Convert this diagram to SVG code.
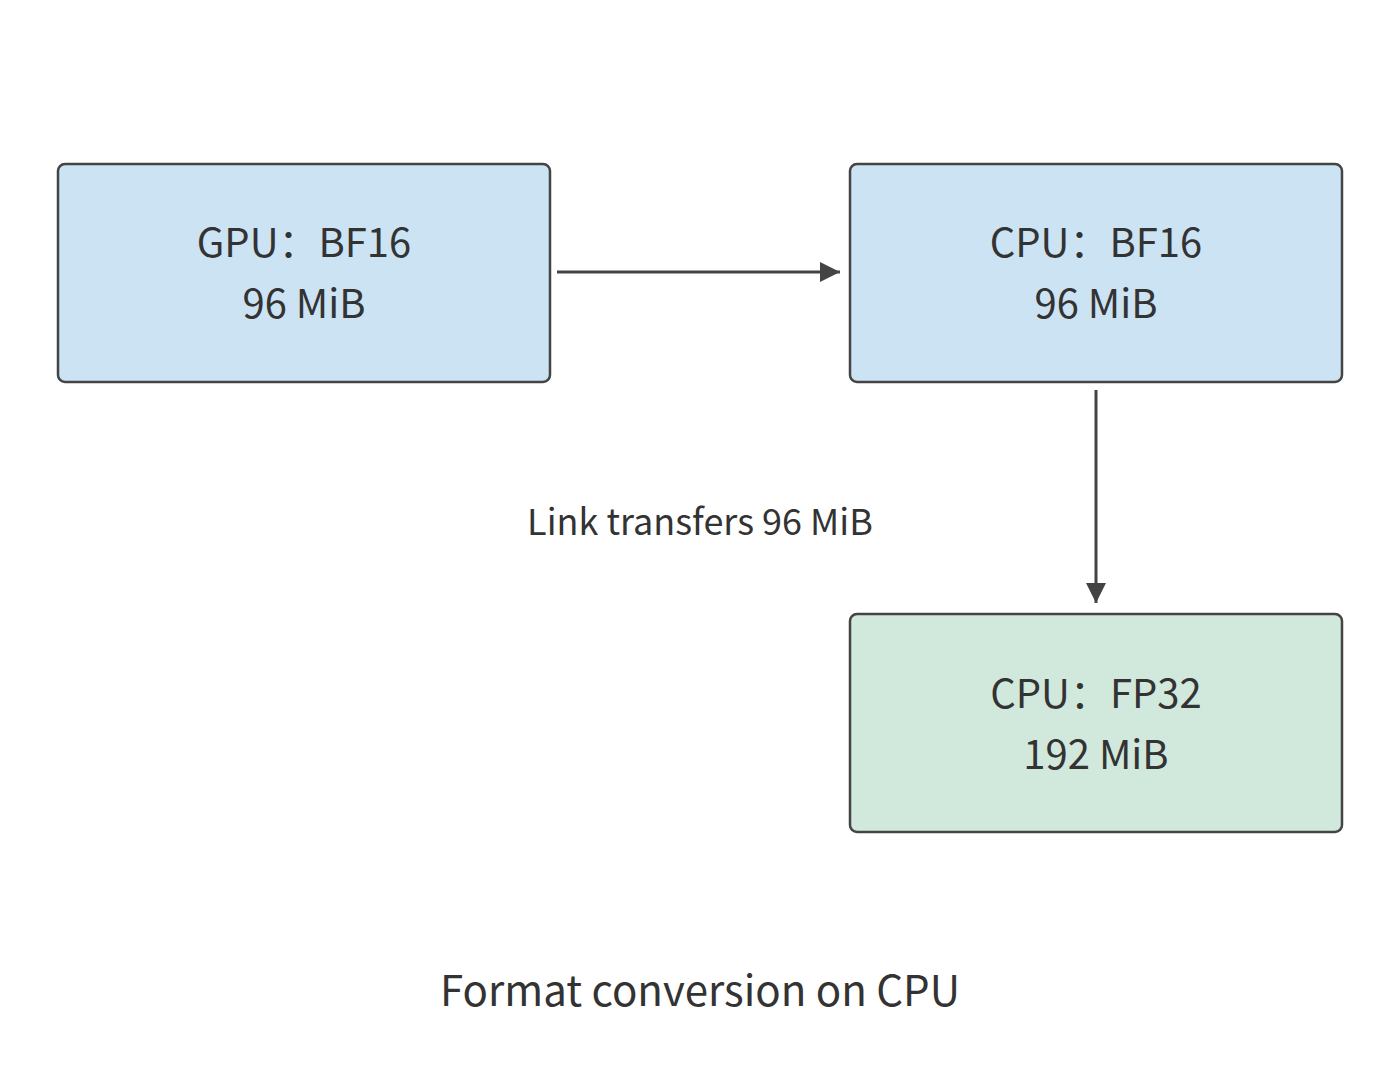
<svg xmlns="http://www.w3.org/2000/svg" width="1400" height="1083" viewBox="0 0 1400 1083">
<style>
.n{stroke:#444;stroke-width:2.5}
.b{fill:#cce3f3}.g{fill:#d1e8dc}
text{font-family:"Noto Sans CJK SC","Noto Sans",sans-serif;fill:#333;text-anchor:middle}
.t{font-size:40px}
.c{stroke:#444;stroke-width:3;fill:none}
</style>
<defs><marker id="a" viewBox="0 0 10 10" refX="9" refY="5" markerWidth="7" markerHeight="7" markerUnits="userSpaceOnUse" orient="auto"><path d="M0,0L10,5L0,10z" fill="#444"/></marker>
<marker id="ah" viewBox="0 0 10 10" refX="10" refY="5" markerWidth="20" markerHeight="20" markerUnits="userSpaceOnUse" orient="auto"><path d="M0,0L10,5L0,10z" fill="#444"/></marker></defs>
<rect width="1400" height="1083" fill="#fff"/>
<g id="gpu"><rect class="n b" x="58" y="164" width="492" height="218" rx="7"/><text class="t" x="304" y="257">GPU：BF16</text><text class="t" x="304" y="318">96 MiB</text></g>
<g id="cpu16"><rect class="n b" x="850" y="164" width="492" height="218" rx="7"/><text class="t" x="1096" y="257">CPU：BF16</text><text class="t" x="1096" y="318">96 MiB</text></g>
<g id="cpu32"><rect class="n g" x="850" y="614" width="492" height="218" rx="7"/><text class="t" x="1096" y="708">CPU：FP32</text><text class="t" x="1096" y="769">192 MiB</text></g>
<g id="connectors">
<path class="c" d="M557,272H840" marker-end="url(#ah)"/>
<path class="c" d="M1096,390V603" marker-end="url(#ah)"/>
</g>
<text x="700" y="535" font-size="36">Link transfers 96 MiB</text>
<text x="700" y="1006" font-size="42">Format conversion on CPU</text>
</svg>
